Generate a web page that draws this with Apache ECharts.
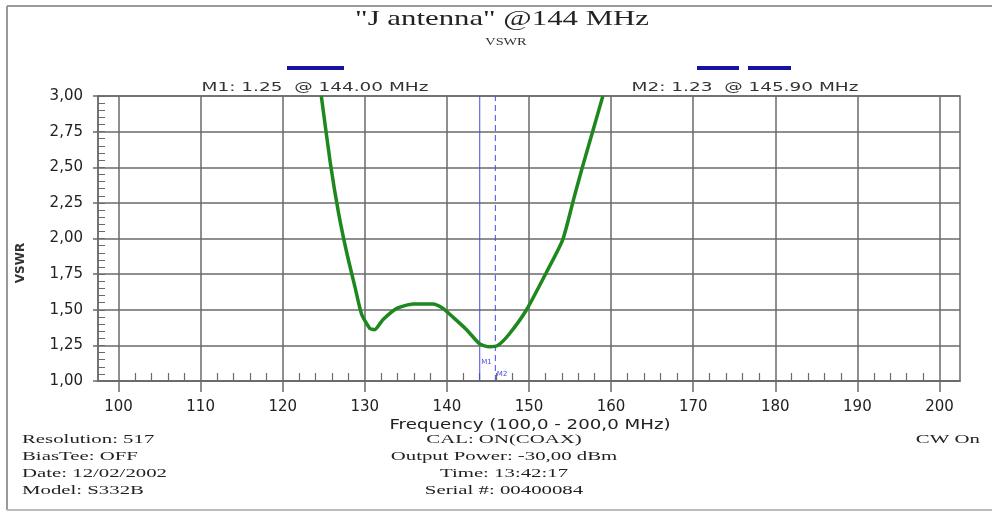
<!DOCTYPE html>
<html>
<head>
<meta charset="utf-8">
<script src="https://cdn.jsdelivr.net/npm/echarts@6/dist/echarts.min.js"></script>
<style>
  html, body { margin: 0; padding: 0; background: #fff; }
  #chart { width: 992px; height: 513px; }
</style>
</head>
<body>
<div id="chart"></div>
<script>
// VSWR sweep
const freqMHz = [124.7, 125.8, 126.8, 127.8, 128.8, 129.6, 130.6, 131.2, 132.2, 133.9, 135.9, 138.3, 139.5, 140.7, 142.4, 144.0, 145.2, 146.2, 147.6, 149.7, 152.1, 154.1, 155.5, 156.5, 157.8, 159.0];
const vswr    = [3.00, 2.53, 2.18, 1.90, 1.66, 1.47, 1.37, 1.36, 1.43, 1.51, 1.54, 1.54, 1.51, 1.45, 1.36, 1.26, 1.24, 1.25, 1.33, 1.50, 1.76, 1.99, 2.29, 2.50, 2.76, 3.00];

const freqTicks = [100, 110, 120, 130, 140, 150, 160, 170, 180, 190, 200];
const freqMinorTicks = [102, 104, 106, 108, 112, 114, 116, 118, 122, 124, 126, 128, 132, 134, 136, 138,
  142, 144, 146, 148, 152, 154, 156, 158, 162, 164, 166, 168, 172, 174, 176, 178,
  182, 184, 186, 188, 192, 194, 196, 198];

const markerNames = ['M1', 'M2'];
const markerFreqs = [144.0, 145.9];
const markerSpan = [1.0, 3.0];
const markerLabelVswr = [1.13, 1.05];
const markerReadouts = ['M1: 1.25  @ 144.00 MHz', 'M2: 1.23  @ 145.90 MHz'];

const titleText = '"J antenna" @144 MHz';
const subTitleText = 'VSWR';
const xName = 'Frequency (100,0 - 200,0 MHz)';
const yName = 'VSWR';
const infoLeft = ['Resolution: 517', 'BiasTee: OFF', 'Date: 12/02/2002', 'Model: S332B'];
const infoCenter = ['CAL: ON(COAX)', 'Output Power: -30,00 dBm', 'Time: 13:42:17', 'Serial #: 00400084'];
const infoRight = ['CW On'];

const gridColor = '#6a6a6a';
const markerBlue = '#4a4ae0';
const sans = 'DejaVu Sans';
const serif = 'Liberation Serif';

const chart = echarts.init(document.getElementById('chart'));

// the analyser print is stretched sideways, so texts get a horizontal scale
const stretchedText = (t, x, y, font, align, sx, fill) => ({
  type: 'text', x, y, scaleX: sx, scaleY: 1,
  style: { text: t, font, fill: fill || '#222', textAlign: align, textVerticalAlign: 'middle' }
});

// vertical marker cursors
const markerSeries = markerFreqs.map((f, i) => ({
  type: 'line',
  name: markerNames[i],
  data: markerSpan.map(v => [f, v]),
  showSymbol: false,
  silent: true,
  z: 2,
  lineStyle: { color: markerBlue, width: 1, type: i === 0 ? 'solid' : [6, 4] },
  markPoint: {
    silent: true,
    symbol: 'circle',
    symbolSize: 1,
    itemStyle: { color: 'rgba(0,0,0,0)' },
    data: [{
      coord: [f, markerLabelVswr[i]],
      label: { show: true, formatter: markerNames[i], position: 'right', distance: 1,
        fontFamily: sans, fontSize: 7, color: markerBlue }
    }]
  }
}));

const option = {
  backgroundColor: '#fff',
  animation: false,
  grid: {
    left: 98, right: 32, top: 96, bottom: 132,
    show: true, borderColor: gridColor, borderWidth: 1.5
  },
  xAxis: [
    {
      type: 'value', min: 97.5, max: 202.5,
      axisLine: { show: true, lineStyle: { color: gridColor, width: 1.5 } },
      axisTick: { show: true, customValues: freqTicks, length: 11, lineStyle: { color: gridColor, width: 1.5 } },
      axisLabel: { customValues: freqTicks, margin: 19, fontFamily: sans, fontSize: 15, color: '#222' },
      splitLine: { show: true, lineStyle: { color: gridColor, width: 1.5 } }
    },
    {
      type: 'value', min: 97.5, max: 202.5, position: 'bottom', gridIndex: 0,
      axisLine: { show: false },
      axisTick: { show: true, inside: true, customValues: freqMinorTicks, length: 8, lineStyle: { color: gridColor, width: 1.2 } },
      axisLabel: { show: false },
      splitLine: { show: false }
    }
  ],
  yAxis: [
    {
      type: 'value', min: 1, max: 3, interval: 0.25,
      axisLine: { show: true, lineStyle: { color: gridColor, width: 1.5 } },
      axisTick: { show: true, length: 5, lineStyle: { color: gridColor, width: 1.5 } },
      axisLabel: { margin: 15, fontFamily: sans, fontSize: 15, color: '#222',
        formatter: v => v.toFixed(2).replace('.', ',') },
      splitLine: { show: true, lineStyle: { color: gridColor, width: 1.5 } }
    },
    {
      type: 'value', min: 1, max: 3, interval: 0.25, position: 'left',
      axisLine: { show: false },
      axisTick: { show: true, inside: true, length: 7, lineStyle: { color: gridColor, width: 1 } },
      minorTick: { show: true, splitNumber: 5, length: 7, lineStyle: { color: gridColor, width: 1 } },
      axisLabel: { show: false },
      splitLine: { show: false }
    }
  ],
  series: [
    {
      type: 'line',
      name: 'VSWR',
      data: freqMHz.map((f, i) => [f, vswr[i]]),
      smooth: 0.2,
      showSymbol: false,
      clip: true,
      z: 3,
      lineStyle: { color: '#1e871e', width: 3.5, join: 'round' }
    },
    ...markerSeries
  ],
  graphic: [
    // outer frame of the screenshot
    { type: 'line', shape: { x1: 7, y1: 6, x2: 992, y2: 6 }, style: { stroke: '#999', lineWidth: 2 } },
    { type: 'line', shape: { x1: 7, y1: 6, x2: 7, y2: 510 }, style: { stroke: '#999', lineWidth: 2 } },
    { type: 'line', shape: { x1: 7, y1: 510, x2: 992, y2: 510 }, style: { stroke: '#bbb', lineWidth: 2 } },
    // title
    stretchedText(titleText, 502, 19, '22px "' + serif + '"', 'center', 1.4),
    stretchedText(subTitleText, 506, 42, '11px "' + serif + '"', 'center', 1.3, '#333'),
    // marker readouts
    { type: 'rect', shape: { x: 287, y: 66, width: 57, height: 4 }, style: { fill: '#1414a0' } },
    { type: 'rect', shape: { x: 697, y: 66, width: 42, height: 4 }, style: { fill: '#1414a0' } },
    { type: 'rect', shape: { x: 748, y: 66, width: 43, height: 4 }, style: { fill: '#1414a0' } },
    stretchedText(markerReadouts[0], 315, 88, '13px "' + sans + '"', 'center', 1.42, '#333'),
    stretchedText(markerReadouts[1], 745, 88, '13px "' + sans + '"', 'center', 1.42, '#333'),
    // axis names
    stretchedText(xName, 530, 425, '14px "' + sans + '"', 'center', 1.3),
    { type: 'text', x: 21, y: 263, rotation: Math.PI / 2,
      style: { text: yName, font: 'bold 12px "' + sans + '"', fill: '#333', textAlign: 'center', textVerticalAlign: 'middle' } },
    // status lines under the plot
    ...infoLeft.map((t, i) => stretchedText(t, 22, 440 + i * 16.8, '13px "' + serif + '"', 'left', 1.6)),
    ...infoCenter.map((t, i) => stretchedText(t, 504, 440 + i * 16.8, '13px "' + serif + '"', 'center', 1.6)),
    ...infoRight.map((t, i) => stretchedText(t, 980, 440 + i * 16.8, '13px "' + serif + '"', 'right', 1.6))
  ]
};

chart.setOption(option);
window.addEventListener('resize', () => chart.resize());
</script>
</body>
</html>
